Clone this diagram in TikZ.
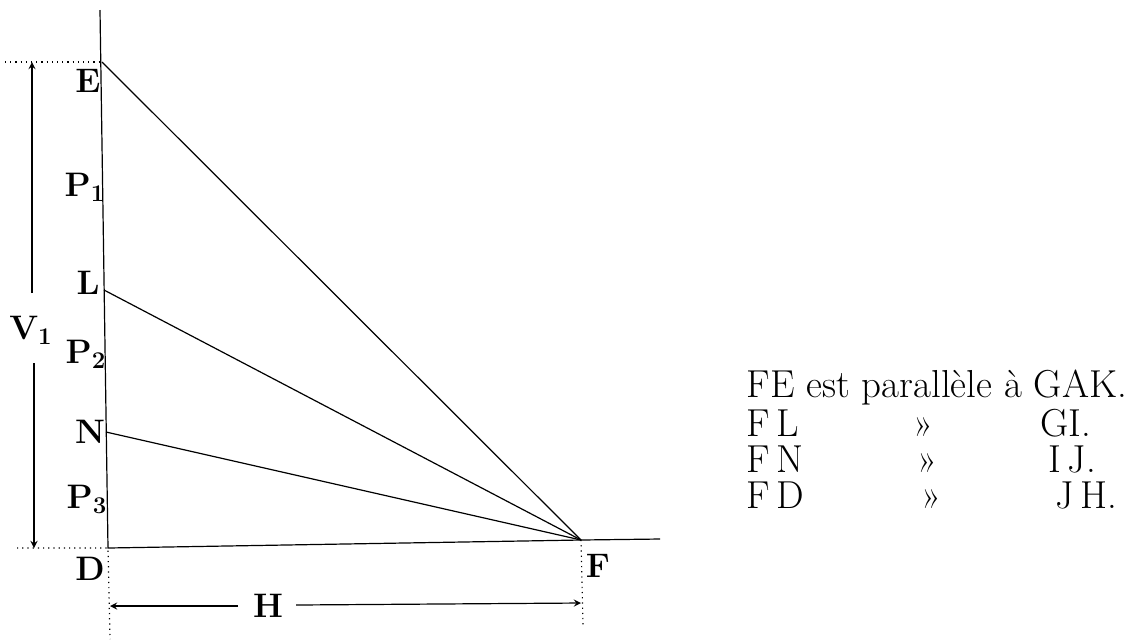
\documentclass[tikz,border=0pt]{standalone}
\begin{document}
\begin{tikzpicture}[>=stealth, x=0.5pt, y=-0.5pt, semithick,
  lab/.style={font=\fontsize{17}{19}\selectfont\bfseries, inner sep=0pt},
  txt/.style={font=\fontsize{19.5}{22}\selectfont, anchor=base west, inner sep=0pt}]
\useasboundingbox (0,0) rectangle (1144,639);
\coordinate (T) at (100,10);
\coordinate (E) at (102,62);
\coordinate (L) at (104,290);
\coordinate (N) at (106,432);
\coordinate (D) at (108,548);
\coordinate (F) at (581,540);
\coordinate (R) at (660,539);
\draw (T)--(D)--(F)--(R);
\draw (E)--(F);
\draw (L)--(F);
\draw (N)--(F);
% cotes
\coordinate (E0) at (5,62);
\coordinate (D0) at (17,548);
\coordinate (Ve) at (32,62);
\coordinate (Vd) at (34,548);
\coordinate (Va) at (32,293);
\coordinate (Vb) at (34,363);
\coordinate (Dd) at (110,639);
\coordinate (Fd) at (583,625);
\coordinate (Hd) at (110,606);
\coordinate (Hf) at (581,603);
\coordinate (Ha) at (238,606);
\coordinate (Hb) at (296,605);
\draw[dotted] (E0)--(E);
\draw[dotted] (D0)--(D)--(Dd);
\draw[dotted] (F)--(Fd);
\draw[->] (Va)--(Ve);
\draw[->] (Vb)--(Vd);
\draw[->] (Ha)--(Hd);
\draw[->] (Hb)--(Hf);
\node[lab] (V) at (31,330) {V$_{\mathbf 1}$};
\node[lab] (H) at (268,606) {H};
% lettres
\node[lab] (lE) at (88,81) {E};
\node[lab] (lP1) at (85,187) {P$_{\mathbf 1}$};
\node[lab] (lL) at (88,283) {L};
\node[lab] (lP2) at (86,354) {P$_{\mathbf 2}$};
\node[lab] (lN) at (90,432) {N};
\node[lab] (lP3) at (87,499) {P$_{\mathbf 3}$};
\node[lab] (lD) at (90,569) {D};
\node[lab] (lF) at (598,566) {F};
% texte
\node[txt] (t1) at (746,397) {FE est parall\`ele \`a GAK.};
\node[txt] (t2) at (746,436) {F\,L};
\node[txt] at (913,436) {\guillemotright};
\node[txt] at (1040,436) {GI.};
\node[txt] (t3) at (746,472) {F\,N};
\node[txt] at (917,472) {\guillemotright};
\node[txt] at (1048,472) {I\,J.};
\node[txt] (t4) at (746,508) {F\,D};
\node[txt] at (921,508) {\guillemotright};
\node[txt] at (1055,508) {J\,H.};
\end{tikzpicture}
\end{document}
